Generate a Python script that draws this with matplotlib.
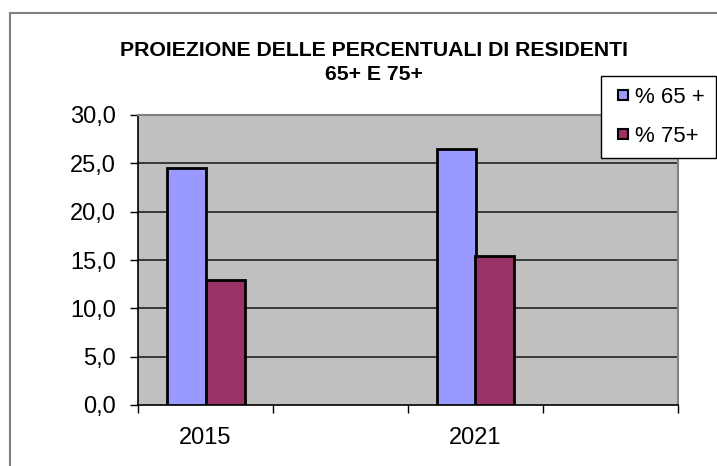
import matplotlib
matplotlib.use("Agg")
import matplotlib.pyplot as plt
import matplotlib.patches as mpatches
from matplotlib.lines import Line2D
import numpy as np

plt.rcParams['font.family'] = ['Liberation Sans', 'DejaVu Sans']

years = ["2015", "2021"]
slots = [0, 2]          # category slots on the axis (4 slots, 2 used)
series_names = ["% 65 +", "% 75+"]
pct65 = [24.5, 26.5]
pct75 = [12.9, 15.4]
yticks = [0, 5, 10, 15, 20, 25, 30]
colors = ["#9999FF", "#993366"]

W, H = 717, 466
fig = plt.figure(figsize=(W / 100, H / 100), dpi=100)
fig.patch.set_facecolor("white")

# outer chart frame (extends beyond right/bottom edges)
frame = mpatches.Rectangle((10 / W, -0.1), 1.2, 1 - 13 / H + 0.1, transform=fig.transFigure,
                           fill=False, edgecolor="#808080", lw=1.5, clip_on=False)
fig.patches.append(frame)

ax = fig.add_axes([138 / W, 1 - 405 / H, 540 / W, 290 / H])
ax.set_facecolor("#C0C0C0")

w = 39 / 135
x = np.array(slots, dtype=float)
ax.bar(x - w / 2, pct65, width=w, color=colors[0], edgecolor="black", linewidth=2, zorder=3,
       label=series_names[0])
ax.bar(x + w / 2, pct75, width=w, color=colors[1], edgecolor="black", linewidth=2, zorder=3,
       label=series_names[1])

ax.set_xlim(-0.5, 3.5)
ax.set_ylim(0, 30)

ax.set_yticks(yticks)
ax.set_yticklabels([f"{v:.1f}".replace(".", ",") for v in yticks])
ax.tick_params(axis="y", direction="out", length=6, width=1, pad=10, labelsize=17, color="black")
for v in yticks[1:-1]:
    ax.axhline(v, color="#222222", lw=1.2, zorder=1)

ax.set_xticks(np.arange(-0.5, 4.0, 1.0))
ax.set_xticklabels([])
ax.tick_params(axis="x", which="major", direction="out", length=6, width=1, color="black")
ax.set_xticks(slots, minor=True)
ax.set_xticklabels(years, minor=True)
ax.tick_params(axis="x", which="minor", length=0, pad=16, labelsize=17)

for s in ["left", "bottom"]:
    ax.spines[s].set_color("black")
    ax.spines[s].set_linewidth(1.2)
for s in ["top", "right"]:
    ax.spines[s].set_color("#808080")
    ax.spines[s].set_linewidth(1.5)

fig.text(374 / W, 1 - 50 / H, "PROIEZIONE DELLE PERCENTUALI DI RESIDENTI", ha="center", va="center",
         fontsize=15.3, fontweight="bold")
fig.text(374 / W, 1 - 74 / H, "65+ E 75+", ha="center", va="center",
         fontsize=15.3, fontweight="bold")

handles = [Line2D([], [], linestyle="none", marker="s", markersize=7.6, markerfacecolor=c,
                  markeredgecolor="black", markeredgewidth=1.5) for c in colors]
leg = fig.legend(handles, series_names, loc="upper left", bbox_to_anchor=(601 / W, 1 - 76 / H),
                 bbox_transform=fig.transFigure, borderaxespad=0, fontsize=16, frameon=True,
                 fancybox=False, framealpha=1, edgecolor="black", handlelength=1.0,
                 handletextpad=0.05, labelspacing=0.8, borderpad=0.5)
leg.get_frame().set_linewidth(1.0)

fig.savefig("out.png", dpi=100)
